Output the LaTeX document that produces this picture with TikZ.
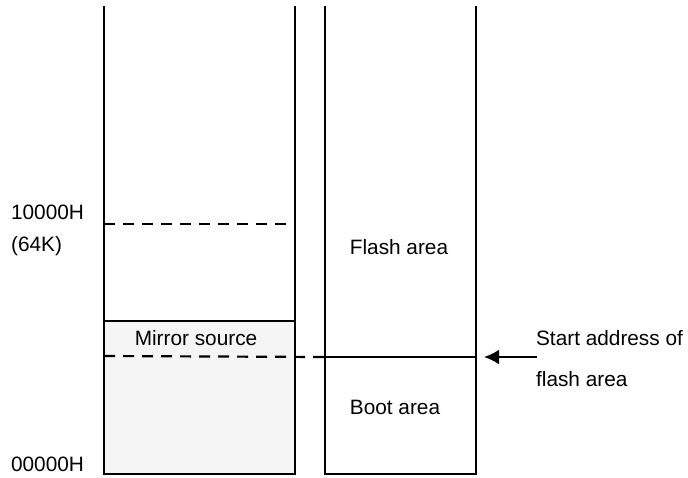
\documentclass[tikz,border=0pt]{standalone}
\usepackage{fontspec}
\setmainfont{Liberation Sans}
\usetikzlibrary{arrows.meta}
\definecolor{mirrorgray}{HTML}{F5F5F5}
\tikzset{
  lbl/.style={inner sep=0pt,anchor=west},
  bound/.style={dash pattern=on 5.5pt off 4pt}
}
\begin{document}
\begin{tikzpicture}[x=.5pt,y=-.5pt,line width=1.1pt,font=\fontsize{10.4}{12}\selectfont]
\useasboundingbox (0,0) rectangle (688,477);
% memory columns
\fill[mirrorgray] (104,321) rectangle (295,474);
\draw (104,6) coordinate(LT)--(104,474) coordinate(LB)--(295,474) coordinate(RB)--(295,6) coordinate(RT);
\draw (325,6) coordinate(FT)--(325,474) coordinate(FB)--(476,474) coordinate(GB)--(476,6) coordinate(GT);
\draw (104,321) coordinate(M1)--(295,321) coordinate(M2);
\draw (325,357) coordinate(S1)--(476,357) coordinate(S2);
\draw[bound] (104,224) coordinate(K1)--(295,224) coordinate(K2);
\draw[bound] (104,356) coordinate(D1)--(S1);
% arrow
\draw[-{Latex[length=7.5pt,width=7.5pt]}] (537,357) coordinate(tail)--(484,357) coordinate(tip);
% labels
\node[lbl] (hi) at (10,212) {10000H};
\node[lbl] (kb) at (10,246) {(64K)};
\node[lbl] (lo) at (10,464) {00000H};
\node (mirror) at (196,338) {Mirror source};
\node (flash) at (399,247) {Flash area};
\node (boot) at (395,407) {Boot area};
\node[lbl] (start) at (535,338) {Start address of};
\node[lbl] (start2) at (535,379) {flash area};
\end{tikzpicture}
\end{document}
